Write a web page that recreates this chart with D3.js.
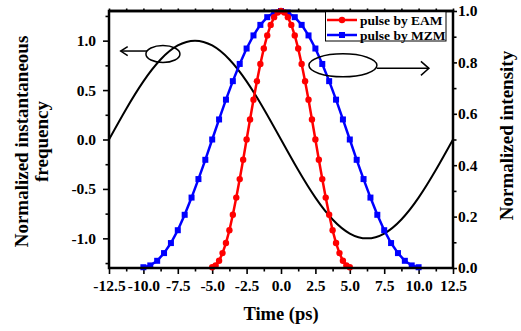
<!DOCTYPE html>
<html>
<head>
<meta charset="utf-8">
<script src="https://cdn.jsdelivr.net/npm/d3@7"></script>
<style>
html,body{margin:0;padding:0;background:#fff;}
svg{display:block;}
text{font-family:"Liberation Serif","Times New Roman",serif;font-weight:bold;fill:#000;}
</style>
</head>
<body>
<svg id="chart" width="521" height="331"></svg>
<script>
// ---- data ----
const timeEAM = [-5,-4.75,-4.5,-4.25,-4,-3.75,-3.5,-3.25,-3,-2.75,-2.5,-2.25,-2,-1.75,-1.5,-1.25,-1,-0.75,-0.5,-0.25,0,
  0.25,0.5,0.75,1,1.25,1.5,1.75,2,2.25,2.5,2.75,3,3.25,3.5,3.75,4,4.25,4.5,4.75,5];
const intensityEAM = [0.003,0.010,0.028,0.058,0.097,0.147,0.207,0.274,0.346,0.421,0.5,0.578,0.655,0.727,0.794,0.854,0.905,0.946,0.976,0.994,1.0,
  0.994,0.976,0.946,0.905,0.854,0.794,0.727,0.655,0.578,0.5,0.421,0.346,0.274,0.207,0.147,0.097,0.058,0.028,0.010,0.003];
const timeMZM = [-10,-9.5,-9,-8.5,-8,-7.5,-7,-6.5,-6,-5.5,-5,-4.5,-4,-3.5,-3,-2.5,-2,-1.5,-1,-0.5,0,
  0.5,1,1.5,2,2.5,3,3.5,4,4.5,5,5.5,6,6.5,7,7.5,8,8.5,9,9.5,10];
const intensityMZM = [0.003,0.010,0.028,0.058,0.097,0.147,0.207,0.274,0.346,0.421,0.5,0.578,0.655,0.727,0.794,0.854,0.905,0.946,0.976,0.994,1.0,
  0.994,0.976,0.946,0.905,0.854,0.794,0.727,0.655,0.578,0.5,0.421,0.346,0.274,0.207,0.147,0.097,0.058,0.028,0.010,0.003];
const timeFreq = [-12.5,-11.25,-10,-8.75,-7.5,-6.25,-5,-3.75,-2.5,-1.25,0,1.25,2.5,3.75,5,6.25,7.5,8.75,10,11.25,12.5];
const freqValues = [0,0.309,0.588,0.809,0.951,1.0,0.951,0.809,0.588,0.309,0,-0.309,-0.588,-0.809,-0.951,-1.0,-0.951,-0.809,-0.588,-0.309,0];

const xTicks = [-12.5,-10,-7.5,-5,-2.5,0,2.5,5,7.5,10,12.5];
const xTickLabels = ["-12.5","-10.0","-7.5","-5.0","-2.5","0.0","2.5","5.0","7.5","10.0","12.5"];
const xMinorTicks = [-11.25,-8.75,-6.25,-3.75,-1.25,1.25,3.75,6.25,8.75,11.25];
const yLeftTicks = [-1,-0.5,0,0.5,1];
const yLeftTickLabels = ["-1.0","-0.5","0.0","0.5","1.0"];
const yLeftMinorTicks = [-1.25,-0.75,-0.25,0.25,0.75,1.25];
const yRightTicks = [0,0.2,0.4,0.6,0.8,1.0];
const yRightTickLabels = ["0.0","0.2","0.4","0.6","0.8","1.0"];
const yRightMinorTicks = [0.1,0.3,0.5,0.7,0.9];
const seriesNames = ["pulse by EAM","pulse by MZM"];
const seriesColors = ["#ff0000","#0000ff"];
// annotations (data coordinates: time, left-axis value)
const annoLeft = {cx:-8.58, cy:0.865, arrowTo:-11.65, arrowY:0.895};
const annoRight = {cx:4.5, cy:0.75, arrowTo:10.75, arrowY:0.72};

// ---- layout ----
const L = 109, R = 453, T = 11, B = 268;
const svg = d3.select("#chart");
svg.append("rect").attr("width",521).attr("height",331).attr("fill","#fff");

const x = d3.scaleLinear().domain([-12.5,12.5]).range([L,R]);
const yL = d3.scaleLinear().domain([-1.3,1.3]).range([B,T]);
const yR = d3.scaleLinear().domain([0,1]).range([B,T]);

function styleAxis(g){
  g.select(".domain").remove();
  g.selectAll(".tick line").attr("stroke","#000").attr("stroke-width",1.6);
  g.selectAll("text").style("font-size","15.5px");
}
// bottom
svg.append("g").attr("transform",`translate(0,${B})`)
  .call(d3.axisBottom(x).tickValues(xTicks).tickFormat((d,i)=>xTickLabels[i]).tickSize(6).tickPadding(6)).call(styleAxis);
svg.append("g").attr("transform",`translate(0,${B})`)
  .call(d3.axisBottom(x).tickValues(xMinorTicks).tickFormat("").tickSize(3.5)).call(styleAxis);
// top
svg.append("g").attr("transform",`translate(0,${T})`)
  .call(d3.axisTop(x).tickValues(xTicks.concat(xMinorTicks)).tickFormat("").tickSize(2.5)).call(styleAxis);
// left
svg.append("g").attr("transform",`translate(${L},0)`)
  .call(d3.axisLeft(yL).tickValues(yLeftTicks).tickFormat((d,i)=>yLeftTickLabels[i]).tickSize(6).tickPadding(7)).call(styleAxis);
svg.append("g").attr("transform",`translate(${L},0)`)
  .call(d3.axisLeft(yL).tickValues(yLeftMinorTicks).tickFormat("").tickSize(3.5)).call(styleAxis);
// right
svg.append("g").attr("transform",`translate(${R},0)`)
  .call(d3.axisRight(yR).tickValues(yRightTicks).tickFormat((d,i)=>yRightTickLabels[i]).tickSize(4).tickPadding(1)).call(styleAxis);
svg.append("g").attr("transform",`translate(${R},0)`)
  .call(d3.axisRight(yR).tickValues(yRightMinorTicks).tickFormat("").tickSize(3.5)).call(styleAxis);

// frequency curve
const freqLine = d3.line().x((d,i)=>x(timeFreq[i])).y(d=>yL(d)).curve(d3.curveNatural);
svg.append("path").datum(freqValues).attr("d",freqLine)
  .attr("fill","none").attr("stroke","#000").attr("stroke-width",2);

// pulses
function drawSeries(times, vals, color, shape){
  const line = d3.line().x((d,i)=>x(times[i])).y(d=>yR(d));
  svg.append("path").datum(vals).attr("d",line)
    .attr("fill","none").attr("stroke",color).attr("stroke-width",2.5);
  const g = svg.append("g");
  if(shape==="circle"){
    g.selectAll("circle").data(vals).join("circle")
      .attr("cx",(d,i)=>x(times[i])).attr("cy",d=>yR(d)).attr("r",3.2).attr("fill",color);
  } else {
    g.selectAll("rect").data(vals).join("rect")
      .attr("x",(d,i)=>x(times[i])-3).attr("y",d=>yR(d)-3)
      .attr("width",6).attr("height",6).attr("fill",color);
  }
}
drawSeries(timeMZM, intensityMZM, seriesColors[1], "square");
drawSeries(timeEAM, intensityEAM, seriesColors[0], "circle");

// frame
svg.append("rect").attr("x",L).attr("y",T).attr("width",R-L).attr("height",B-T)
  .attr("fill","none").attr("stroke","#000").attr("stroke-width",2.5);

// legend
const lg = svg.append("g");
lg.append("rect").attr("x",325.5).attr("y",T).attr("width",120.5).attr("height",30)
  .attr("fill","#fff").attr("stroke","#000").attr("stroke-width",1);
[20,35].forEach((yy,i)=>{
  lg.append("line").attr("x1",327).attr("x2",357).attr("y1",yy).attr("y2",yy)
    .attr("stroke",seriesColors[i]).attr("stroke-width",2.5);
  if(i===0) lg.append("circle").attr("cx",342).attr("cy",yy).attr("r",3.2).attr("fill",seriesColors[i]);
  else lg.append("rect").attr("x",342-3).attr("y",yy-3).attr("width",6).attr("height",6).attr("fill",seriesColors[i]);
  lg.append("text").attr("x",360).attr("y",yy+4.5).style("font-size","13.5px").text(seriesNames[i]);
});
// redraw top border over legend
svg.append("line").attr("x1",L).attr("x2",R).attr("y1",T).attr("y2",T).attr("stroke","#000").attr("stroke-width",2.5);

// annotations
function arrowHead(g, tipX, tipY, dir, len, half){
  g.append("path").attr("d",`M${tipX-dir*len},${tipY-half}L${tipX},${tipY}L${tipX-dir*len},${tipY+half}`)
    .attr("fill","none").attr("stroke","#000").attr("stroke-width",1.5);
}
const an = svg.append("g");
{
  const cx = x(annoLeft.cx), cy = yL(annoLeft.cy), rx = 17, ry = 8.5;
  an.append("ellipse").attr("cx",cx).attr("cy",cy).attr("rx",rx).attr("ry",ry)
    .attr("fill","none").attr("stroke","#000").attr("stroke-width",1.5);
  const ay = yL(annoLeft.arrowY);
  an.append("line").attr("x1",cx-rx+1).attr("x2",x(annoLeft.arrowTo)).attr("y1",ay).attr("y2",ay)
    .attr("stroke","#000").attr("stroke-width",1.5);
  arrowHead(an, x(annoLeft.arrowTo), ay, -1, 7, 4.5);
}
{
  const cx = x(annoRight.cx), cy = yL(annoRight.cy), rx = 34, ry = 11.5;
  an.append("ellipse").attr("cx",cx).attr("cy",cy).attr("rx",rx).attr("ry",ry)
    .attr("fill","none").attr("stroke","#000").attr("stroke-width",1.5);
  const ay = yL(annoRight.arrowY);
  an.append("line").attr("x1",cx+rx).attr("x2",x(annoRight.arrowTo)).attr("y1",ay).attr("y2",ay)
    .attr("stroke","#000").attr("stroke-width",1.5);
  arrowHead(an, x(annoRight.arrowTo), ay, 1, 8, 7);
}

// axis titles
svg.append("text").attr("x",281).attr("y",320).attr("text-anchor","middle")
  .style("font-size","18.5px").text("Time (ps)");
const lt = svg.append("text").attr("transform","translate(28,141.5) rotate(-90)").attr("text-anchor","middle").style("font-size","19px");
lt.append("tspan").attr("x",0).attr("y",0).text("Normalized instantaneous");
lt.append("tspan").attr("x",0).attr("y",20).text("frequency");
svg.append("text").attr("transform","translate(513,135.5) rotate(-90)").attr("text-anchor","middle")
  .style("font-size","19px").text("Normalized intensity");
</script>
</body>
</html>
